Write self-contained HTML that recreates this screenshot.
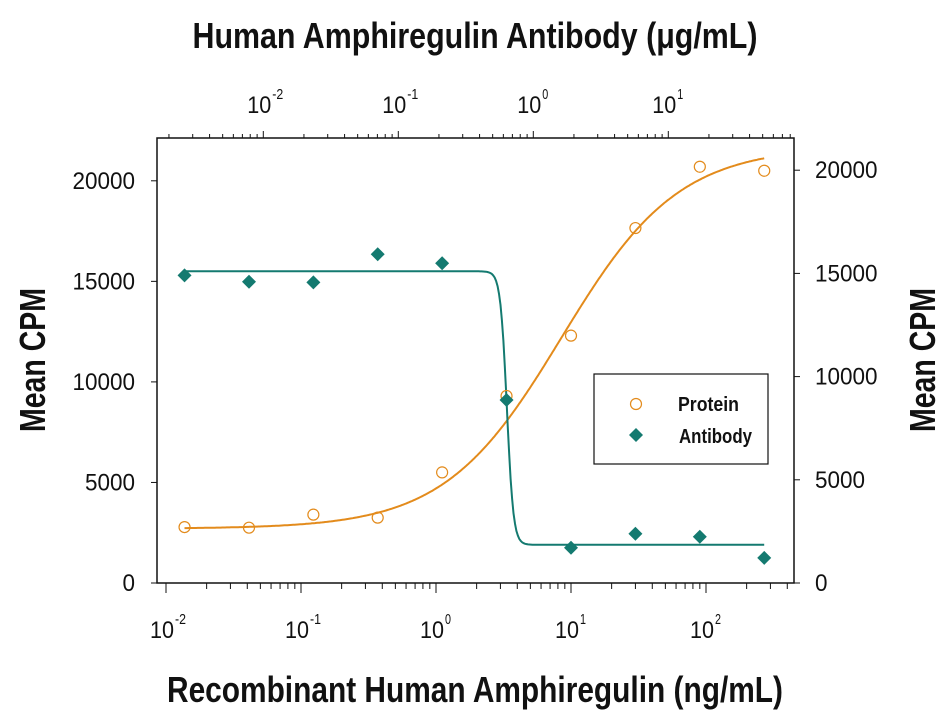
<!DOCTYPE html>
<html><head><meta charset="utf-8"><style>
body{margin:0;background:#fff;}
svg text{font-family:"Liberation Sans Narrow","Liberation Sans",sans-serif;fill:#111;}
</style></head><body>
<svg id="chart" width="951" height="717" viewBox="0 0 951 717">
<g id="g"></g>
</svg>
<script>
const concentrations=[0.01372,0.0412,0.1235,0.37,1.11,3.33,10,30,90,270];
const proteinValues=[2780,2750,3400,3250,5500,9300,12300,17650,20700,20500];
const antibodyValues=[15300,14980,14950,16350,15900,9100,1750,2450,2300,1250];
const proteinFit=[2700,21700,8.5,1.0];   // bottom, top, ec50, hill
const antibodyFit=[1900,15500,3.35,-18];
const leftTicks=[0,5000,10000,15000,20000];
const rightTicks=[0,5000,10000,15000,20000];
const bottomDecades=[-2,-1,0,1,2];
const topDecades=[-2,-1,0,1];

const NS="http://www.w3.org/2000/svg";
const g=document.getElementById('g');
function el(t,a,txt){const e=document.createElementNS(NS,t);for(const k in a)e.setAttribute(k,a[k]);if(txt!==undefined)e.textContent=txt;g.appendChild(e);return e;}
const X0=157,X1=794,Y0=138,Y1=583;
const xS=v=>436+135*Math.log10(v);
const yL=v=>583-v*0.02011;
const yR=v=>583-v*0.02064;
const xTop=v=>533.3+135*Math.log10(v);
const OR="#e38b1c",TE="#147a70";

let e=el('rect',{x:X0,y:Y0,width:X1-X0,height:Y1-Y0,fill:'none',stroke:'#111','stroke-width':1.5});


leftTicks.forEach(t=>{const y=yL(t);
 el('line',{x1:X0-6,x2:X0,y1:y,y2:y,stroke:'#111'});
 const s=String(t);
 e=el('text',{x:135,y:y+8,'text-anchor':'end','font-size':24,textLength:s.length*12.5,lengthAdjust:'spacingAndGlyphs'},s);
 });
rightTicks.forEach(t=>{const y=yR(t);
 el('line',{x1:X1,x2:X1+6,y1:y,y2:y,stroke:'#111'});
 const s=String(t);
 e=el('text',{x:815,y:y+8,'text-anchor':'start','font-size':24,textLength:s.length*12.5,lengthAdjust:'spacingAndGlyphs'},s);
 });
function pow10(x,y,d,name){
 e=el('text',{x:x-16,y:y,'font-size':24,textLength:24,lengthAdjust:'spacingAndGlyphs'},'10');
 
 el('text',{x:x+9,y:y-14,'font-size':15,textLength:d<0?11:6,lengthAdjust:'spacingAndGlyphs'},String(d));}
for(let d=-2;d<=2;d++){for(let m=1;m<=9;m++){const v=m*Math.pow(10,d);const x=xS(v);if(x<X0||x>X1)continue;
 el('line',{x1:x,x2:x,y1:Y1,y2:Y1+(m==1?10:6),stroke:'#111'});}}
bottomDecades.forEach(d=>pow10(xS(Math.pow(10,d)),638,d,'bottom-tick-label'));
for(let d=-3;d<=1;d++){for(let m=1;m<=9;m++){const v=m*Math.pow(10,d);const x=xTop(v);if(x<X0+10||x>X1-2)continue;
 el('line',{x1:x,x2:x,y1:Y0,y2:Y0-(m==1?7:4),stroke:'#111'});}}
topDecades.forEach(d=>pow10(xTop(Math.pow(10,d)),113,d,'top-tick-label'));

function curve(p,col,name){const [b,t,ec,h]=p;let dstr='';
 for(let i=0;i<=400;i++){const lx=Math.log10(concentrations[0])+i/400*(Math.log10(concentrations[9])-Math.log10(concentrations[0]));
  const v=Math.pow(10,lx);const yv=b+(t-b)/(1+Math.pow(ec/v,h));
  dstr+=(i?'L':'M')+xS(v).toFixed(1)+','+yL(yv).toFixed(1);}
 e=el('path',{d:dstr,fill:'none',stroke:col,'stroke-width':2});
 }
curve(proteinFit,OR,'protein-fit-curve');
curve(antibodyFit,TE,'antibody-fit-curve');

concentrations.forEach((c,i)=>{
 e=el('circle',{cx:xS(c),cy:yL(proteinValues[i]),r:5.5,fill:'none',stroke:OR,'stroke-width':1.2});
 
 const x=xS(c),y=yL(antibodyValues[i]);
 e=el('polygon',{points:`${x},${y-7} ${x+7},${y} ${x},${y+7} ${x-7},${y}`,fill:TE});
 
});

e=el('rect',{x:594,y:374,width:174,height:90,fill:'#fff',stroke:'#111','stroke-width':1.2});

el('circle',{cx:636,cy:404,r:5.5,fill:'none',stroke:OR,'stroke-width':1.2});
e=el('text',{x:678,y:411,'font-size':20,'font-weight':'bold',textLength:61,lengthAdjust:'spacingAndGlyphs'},'Protein');

el('polygon',{points:'636,428 643,435 636,442 629,435',fill:TE});
e=el('text',{x:679,y:443,'font-size':20,'font-weight':'bold',textLength:73,lengthAdjust:'spacingAndGlyphs'},'Antibody');


e=el('text',{x:475,y:48,'text-anchor':'middle','font-size':36,'font-weight':'bold',textLength:565,lengthAdjust:'spacingAndGlyphs'},'Human Amphiregulin Antibody (μg/mL)');

e=el('text',{x:475,y:702,'text-anchor':'middle','font-size':36,'font-weight':'bold',textLength:616,lengthAdjust:'spacingAndGlyphs'},'Recombinant Human Amphiregulin (ng/mL)');

e=el('text',{x:0,y:0,'text-anchor':'middle','font-size':36,'font-weight':'bold',textLength:144,lengthAdjust:'spacingAndGlyphs',transform:'translate(45,360) rotate(-90)'},'Mean CPM');

e=el('text',{x:0,y:0,'text-anchor':'middle','font-size':36,'font-weight':'bold',textLength:144,lengthAdjust:'spacingAndGlyphs',transform:'translate(935,360) rotate(-90)'},'Mean CPM');

</script>
</body></html>
